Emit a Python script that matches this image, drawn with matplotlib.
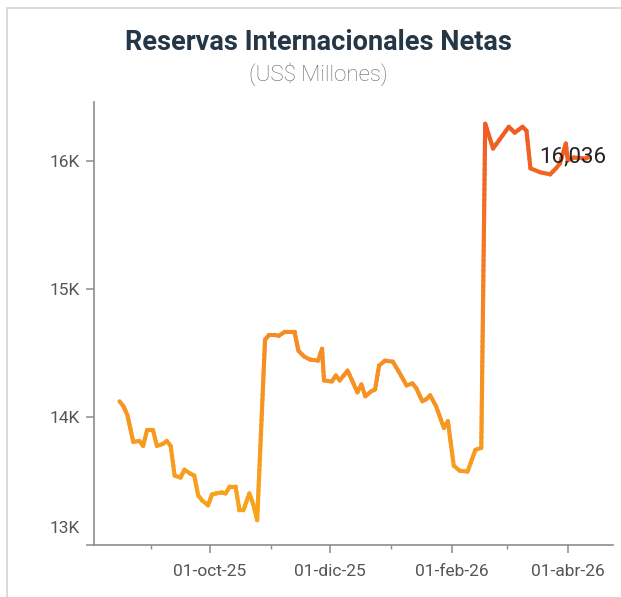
import numpy as np
import matplotlib
matplotlib.use("Agg")
import matplotlib.pyplot as plt
import matplotlib.dates as mdates
from matplotlib.collections import LineCollection
from matplotlib.colors import LinearSegmentedColormap, Normalize
from matplotlib.patches import Rectangle
from matplotlib.ticker import FuncFormatter
from matplotlib.transforms import ScaledTranslation

# datos (US$ millones)
fechas = [
    "2025-08-16", "2025-08-18", "2025-08-20", "2025-08-23", "2025-08-26", "2025-08-28",
    "2025-08-30", "2025-09-02", "2025-09-04", "2025-09-07", "2025-09-09", "2025-09-11",
    "2025-09-13", "2025-09-16", "2025-09-18", "2025-09-21", "2025-09-23", "2025-09-25",
    "2025-09-27", "2025-09-30", "2025-10-02", "2025-10-04", "2025-10-07", "2025-10-09",
    "2025-10-11", "2025-10-14", "2025-10-16", "2025-10-18", "2025-10-21", "2025-10-23",
    "2025-10-25", "2025-10-29", "2025-10-31", "2025-11-03", "2025-11-05", "2025-11-08",
    "2025-11-13", "2025-11-15", "2025-11-18", "2025-11-21", "2025-11-25", "2025-11-27",
    "2025-11-28", "2025-12-02", "2025-12-04", "2025-12-06", "2025-12-10", "2025-12-15",
    "2025-12-17", "2025-12-19", "2025-12-22", "2025-12-24", "2025-12-26", "2025-12-29",
    "2026-01-02", "2026-01-05", "2026-01-09", "2026-01-12", "2026-01-14", "2026-01-17",
    "2026-01-19", "2026-01-21", "2026-01-24", "2026-01-28", "2026-01-30", "2026-02-02",
    "2026-02-05", "2026-02-09", "2026-02-13", "2026-02-16", "2026-02-18", "2026-02-22",
    "2026-03-02", "2026-03-05", "2026-03-09", "2026-03-11", "2026-03-13", "2026-03-18",
    "2026-03-23", "2026-03-26", "2026-03-28", "2026-03-31", "2026-04-01", "2026-04-04",
    "2026-04-10", "2026-04-12",
]
valores = [
    14124, 14085, 14015, 13806, 13814, 13775,
    13899, 13899, 13775, 13790, 13814, 13775,
    13543, 13527, 13589, 13558, 13543, 13388,
    13349, 13310, 13395, 13403, 13411, 13403,
    13457, 13457, 13271, 13271, 13403, 13318,
    13194, 14605, 14643, 14643, 14636, 14667,
    14667, 14519, 14473, 14450, 14442, 14535,
    14287, 14279, 14326, 14287, 14364, 14194,
    14256, 14163, 14202, 14217, 14403, 14442,
    14434, 14357, 14248, 14264, 14225, 14124,
    14140, 14171, 14085, 13915, 13969, 13620,
    13581, 13574, 13744, 13760, 16295, 16101,
    16271, 16225, 16271, 16240, 15946, 15915,
    15899, 15946, 15984, 16140, 16008, 16031,
    16023, 16036,
]
meses = ["ene", "feb", "mar", "abr", "may", "jun",
         "jul", "ago", "sep", "oct", "nov", "dic"]
yticks = [13000, 14000, 15000, 16000]
ytick_labels = ["13K", "14K", "15K", "16K"]

W, H = 621, 597
fig = plt.figure(figsize=(W / 100, H / 100), dpi=100)
fig.patch.set_facecolor("white")

# borde de la tarjeta
fig.patches.append(Rectangle((7 / W, -0.05), 1.2, 1 - 8 / H + 0.05,
                             transform=fig.transFigure, fill=False,
                             edgecolor="#d4d4d4", linewidth=1.2))

ax = fig.add_axes([94 / W, 1 - 545 / H, (613 - 94) / W, (545 - 102) / H])

x = mdates.date2num(np.array(fechas, dtype="datetime64[D]"))
y = np.array(valores, dtype=float)

# gradiente de color segun el valor
cmap = LinearSegmentedColormap.from_list("rin", ["#f9a51b", "#f58a25", "#f15a24"])
norm = Normalize(13150, 16300)
segs, cols = [], []
for i in range(len(x) - 1):
    n = max(2, int(abs(y[i + 1] - y[i]) / 40) + 2)
    xs = np.linspace(x[i], x[i + 1], n)
    ys = np.linspace(y[i], y[i + 1], n)
    for j in range(n - 1):
        segs.append([(xs[j], ys[j]), (xs[j + 1], ys[j + 1])])
        cols.append(cmap(norm((ys[j] + ys[j + 1]) / 2)))
lc = LineCollection(segs, colors=cols, linewidths=3.0, capstyle="round", joinstyle="round")
ax.add_collection(lc)

ax.set_xlim(mdates.datestr2num("2025-08-03"), mdates.datestr2num("2026-04-24"))
ax.set_ylim(13000, 16465)

ax.xaxis.set_major_locator(mdates.MonthLocator(bymonth=[2, 4, 6, 8, 10, 12]))
ax.xaxis.set_minor_locator(mdates.MonthLocator(bymonth=[1, 3, 5, 7, 9, 11]))
ax.xaxis.set_major_formatter(FuncFormatter(
    lambda v, p: "{:02d}-{}-{:02d}".format(mdates.num2date(v).day,
                                          meses[mdates.num2date(v).month - 1],
                                          mdates.num2date(v).year % 100)))
ax.set_yticks(yticks)
ax.set_yticklabels(ytick_labels)

for s in ["top", "right"]:
    ax.spines[s].set_visible(False)
for s in ["left", "bottom"]:
    ax.spines[s].set_color("#8c8c8c")
    ax.spines[s].set_linewidth(1.2)

ax.tick_params(axis="both", which="major", length=6, width=1.1, color="#8c8c8c",
               labelsize=12.5, labelcolor="#555555", pad=4)
ax.tick_params(axis="x", which="minor", length=3, width=1.0, color="#8c8c8c")
ax.tick_params(axis="x", which="major", pad=8)

for lab in ax.get_yticklabels() + ax.get_xticklabels():
    lab.set_fontfamily("Roboto")
# 13K aparece algo mas arriba en el original
ylabs = ax.get_yticklabels()
ylabs[0].set_transform(ylabs[0].get_transform() + ScaledTranslation(0, 0.18, fig.dpi_scale_trans))

ax.annotate("16,036", (x[-1], y[-1]), xytext=(-12, 0), textcoords="offset points",
            ha="center", va="center", fontsize=16, color="#222222", family="Roboto")

fig.text(318 / W, 1 - 43 / H, "Reservas Internacionales Netas", ha="center", va="center",
         fontsize=19.5, fontweight="bold", color="#253746", family="Roboto")
fig.text(318 / W, 1 - 74 / H, "(US$ Millones)", ha="center", va="center",
         fontsize=16, color="#666666", family="Roboto", fontweight="light")

fig.savefig("out.png", dpi=100)
